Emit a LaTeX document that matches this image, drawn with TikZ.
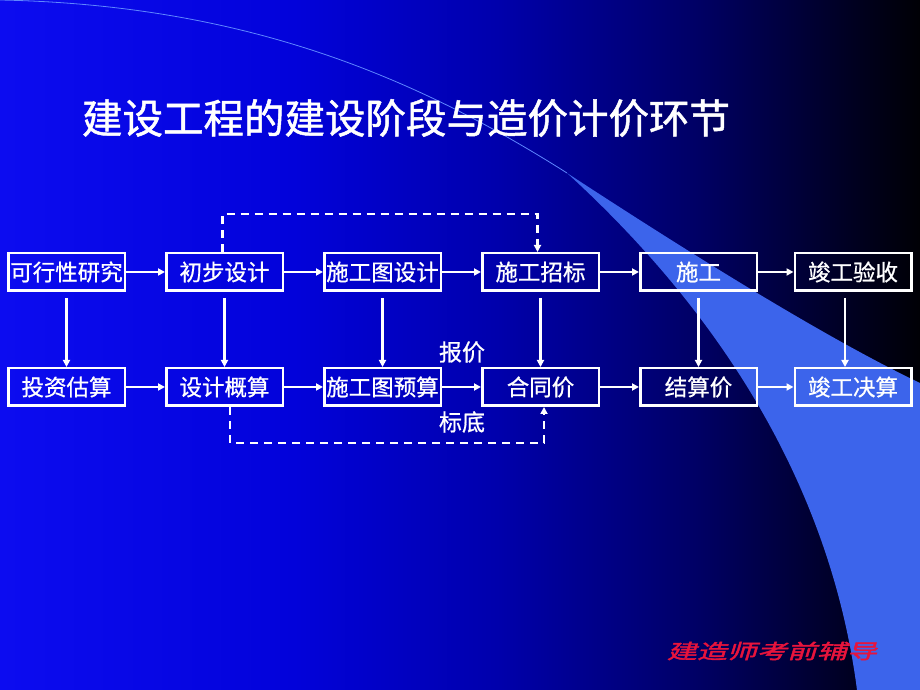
\documentclass[tikz,border=0pt]{standalone}
\usepackage{fontspec}
\setmainfont{Noto Sans CJK SC}
\newfontfamily\boxfont[FakeBold=0.8]{Noto Sans CJK SC}
\newfontfamily\titlefont[FakeBold=1.2]{Noto Sans CJK SC}
\newfontfamily\signfont[FakeSlant=0.3,FakeStretch=1.5,FakeBold=2]{Noto Sans CJK SC}
\usetikzlibrary{arrows.meta}

% Farben der Folie
\definecolor{bgA}{RGB}{12,12,240}
\definecolor{bgB}{RGB}{2,2,218}
\definecolor{bgC}{RGB}{0,0,172}
\definecolor{bgD}{RGB}{0,0,100}
\definecolor{bgE}{RGB}{0,0,35}
\definecolor{bgF}{RGB}{0,0,5}
\definecolor{swooshblue}{RGB}{60,100,235}
\definecolor{swooshline}{RGB}{95,135,255}
\definecolor{signred}{RGB}{232,20,60}

\pgfdeclarehorizontalshading{slidebg}{100bp}{color(0bp)=(bgA); color(25bp)=(bgA);
  color(41bp)=(bgB); color(52bp)=(bgC); color(63bp)=(bgD); color(71bp)=(bgE);
  color(75bp)=(bgF); color(100bp)=(bgF)}

\tikzset{
  stage/.style={draw=white, line width=2.5pt, minimum width=116.5pt, minimum height=37.5pt,
    inner sep=0pt, text=white, font=\boxfont\fontsize{22.5}{26}\selectfont},
  pricetag/.style={text=white, inner sep=0pt, font=\boxfont\fontsize{23}{26}\selectfont},
  flow/.style={->, white, line width=2.3pt},
  dashflow/.style={flow, dash pattern=on 8pt off 6pt},
}

\begin{document}
\begin{tikzpicture}[x=1pt, y=1pt, >={Triangle[length=7pt,width=7pt]}]
    % Hintergrund
    \shade[shading=slidebg] (0,0) rectangle (920,690);
    \useasboundingbox (0,0) rectangle (920,690);

    % heller Bogen
    \fill[swooshblue] (567,517) .. controls (700,430) and (830,350) .. (920,307)
        -- (920,0) -- (857,0) .. controls (835,170) and (750,350) .. (567,517) -- cycle;
    \draw[swooshline, line width=0.8pt] (0,690) .. controls (250,685) and (420,610) .. (567,517);

    % Titel
    \node[text=white, font=\titlefont\fontsize{40.5}{48}\selectfont] (title) at (406,572)
        {建设工程的建设阶段与造价计价环节};

    % obere Reihe - Bauphasen
    \node[stage] (study)   at (66.5,418)  {可行性研究};
    \node[stage] (prelim)  at (224.5,418) {初步设计};
    \node[stage] (drawing) at (382.5,418) {施工图设计};
    \node[stage] (tender)  at (540.5,418) {施工招标};
    \node[stage] (build)   at (698.5,418) {施工};
    \node[stage] (accept)  at (853,418)   {竣工验收};

    % untere Reihe - Kostenstufen
    \node[stage] (estimate)  at (66.5,303)  {投资估算};
    \node[stage] (budget)    at (224.5,303) {设计概算};
    \node[stage] (drawcost)  at (382.5,303) {施工图预算};
    \node[stage] (contract)  at (540.5,303) {合同价};
    \node[stage] (settle)    at (698.5,303) {结算价};
    \node[stage] (final)     at (853,303)   {竣工决算};

    % waagrechte Pfeile
    \draw[flow] (study) -- (prelim);
    \draw[flow] (prelim) -- (drawing);
    \draw[flow] (drawing) -- (tender);
    \draw[flow] (tender) -- (build);
    \draw[flow] (build) -- (accept);
    \draw[flow] (estimate) -- (budget);
    \draw[flow] (budget) -- (drawcost);
    \draw[flow] (drawcost) -- (contract);
    \draw[flow] (contract) -- (settle);
    \draw[flow] (settle) -- (final);

    % senkrechte Pfeile
    \draw[flow, shorten <=6pt] (study) -- (estimate);
    \draw[flow, shorten <=6pt] (prelim) -- (budget);
    \draw[flow, shorten <=6pt] (drawing) -- (drawcost);
    \draw[flow, shorten <=6pt] (tender) -- (contract);
    \draw[flow, shorten <=6pt] (build) -- (settle);
    \draw[flow, shorten <=6pt] ([xshift=-8pt]accept.south) -- ([xshift=-8pt]final.north);

    % gestrichelte Umwege
    \draw[dashflow] ([xshift=-2pt]prelim.north) -- ++(0,38) -| ([xshift=-3pt]tender.north);
    \draw[dashflow] ([xshift=5.5pt]budget.south) -- ++(0,-36) -| ([xshift=3.5pt]contract.south);

    % Beschriftungen
    \node[pricetag] (quote) at (462,338) {报价};
    \node[pricetag] (floor) at (462,268) {标底};

    % Fusszeile
    \node[text=signred, font=\signfont\fontsize{20}{24}\selectfont] (sign) at (772,39)
        {建造师考前辅导};
\end{tikzpicture}
\end{document}
